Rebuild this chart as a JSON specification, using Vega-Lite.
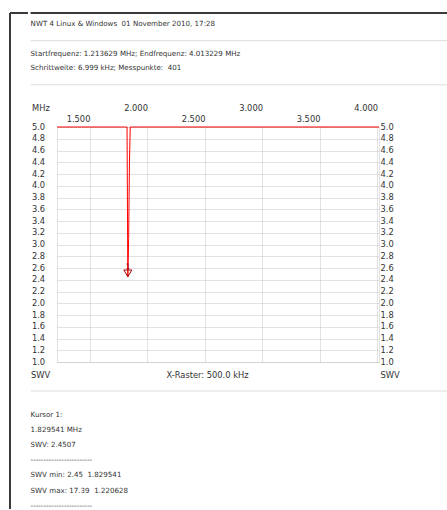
{
  "$schema": "https://vega.github.io/schema/vega-lite/v6.json",
  "padding": {"left": 9, "top": 12, "right": 0, "bottom": 0},
  "background": "white",
  "datasets": {
    "curve": [
      {"f": 1.213629, "swv": 17.2},
      {"f": 1.220628, "swv": 17.39},
      {"f": 1.283619, "swv": 16.5},
      {"f": 1.353609, "swv": 15.3},
      {"f": 1.423599, "swv": 14.0},
      {"f": 1.493589, "swv": 12.6},
      {"f": 1.563579, "swv": 11.0},
      {"f": 1.633569, "swv": 9.4},
      {"f": 1.703559, "swv": 7.8},
      {"f": 1.773549, "swv": 6.3},
      {"f": 1.801545, "swv": 5.8},
      {"f": 1.815543, "swv": 5.5},
      {"f": 1.822542, "swv": 5.2},
      {"f": 1.829541, "swv": 2.4507},
      {"f": 1.83654, "swv": 3.1},
      {"f": 1.843539, "swv": 4.4},
      {"f": 1.850538, "swv": 5.4},
      {"f": 1.857537, "swv": 5.9},
      {"f": 1.913529, "swv": 6.9},
      {"f": 2.123499, "swv": 9.5},
      {"f": 2.333469, "swv": 11.5},
      {"f": 2.613429, "swv": 13.0},
      {"f": 2.963379, "swv": 14.2},
      {"f": 3.313329, "swv": 15.0},
      {"f": 3.663279, "swv": 15.6},
      {"f": 4.013229, "swv": 16.0}
    ],
    "cursor": [{"f": 1.829541, "swv": 2.4507, "label": "1"}],
    "head1": [{"line": "t1", "text": "NWT 4 Linux & Windows\u00a0 01 November 2010, 17:28"}],
    "head2": [
      {"line": "l1", "text": "Startfrequenz: 1.213629 MHz; Endfrequenz: 4.013229 MHz"},
      {"line": "l2", "text": "Schrittweite: 6.999 kHz; Messpunkte:\u00a0 401"}
    ],
    "foot": [
      {"line": "k1", "text": "Kursor 1:"},
      {"line": "k2", "text": "1.829541 MHz"},
      {"line": "k3", "text": "SWV: 2.4507"},
      {"line": "d1", "text": "------------------------"},
      {"line": "m1", "text": "SWV min: 2.45\u00a0 1.829541"},
      {"line": "m2", "text": "SWV max: 17.39\u00a0 1.220628"},
      {"line": "d2", "text": "------------------------"}
    ],
    "blank": [{}]
  },
  "concat": [
    {
      "width": 18,
      "height": 496,
      "data": {"name": "blank"},
      "layer": [
        {
          "mark": {"type": "rule", "color": "#3a3a3a", "strokeWidth": 2},
          "encoding": {"x": {"datum": 0, "type": "quantitative", "scale": {"domain": [0, 1]}, "axis": null}}
        },
        {
          "mark": {"type": "rule", "color": "#3a3a3a", "strokeWidth": 2},
          "encoding": {"y": {"datum": 1, "type": "quantitative", "scale": {"domain": [0, 1]}, "axis": null}}
        }
      ]
    },
    {
      "concat": [
        {
          "width": 392.6,
          "height": 27.7,
          "layer": [
            {
              "data": {"name": "head1"},
              "mark": {"type": "text", "align": "left", "baseline": "bottom", "fontSize": 7.1, "color": "#333333", "dx": -26.4},
              "encoding": {
                "x": {"datum": 0, "type": "quantitative", "scale": {"domain": [0, 1]}, "axis": null},
                "y": {"field": "line", "type": "nominal", "scale": {"type": "point", "domain": ["frame", "t1", "sep1"], "padding": 0}, "axis": null},
                "text": {"field": "text"}
              }
            },
            {
              "data": {"name": "blank"},
              "mark": {"type": "rule", "color": "#3a3a3a", "strokeWidth": 2, "xOffset": -26.4},
              "encoding": {
                "x": {"datum": 0, "type": "quantitative"},
                "x2": {"datum": 1},
                "y": {"datum": "frame", "type": "nominal", "axis": null}
              }
            },
            {
              "data": {"name": "blank"},
              "mark": {"type": "rule", "color": "#dcdcdc", "strokeWidth": 1, "xOffset": -26.4},
              "encoding": {
                "x": {"datum": 0, "type": "quantitative"},
                "x2": {"datum": 1},
                "y": {"datum": "sep1", "type": "nominal", "axis": null}
              }
            }
          ]
        },
        {
          "width": 392.6,
          "height": 42.8,
          "layer": [
            {
              "data": {"name": "head2"},
              "mark": {"type": "text", "align": "left", "baseline": "middle", "fontSize": 7.1, "color": "#333333", "dx": -26.4},
              "encoding": {
                "x": {"datum": 0, "type": "quantitative", "scale": {"domain": [0, 1]}, "axis": null},
                "y": {"field": "line", "type": "nominal", "scale": {"type": "point", "domain": ["l1", "l2"], "padding": 1.029, "align": 0.427}, "axis": null},
                "text": {"field": "text"}
              }
            },
            {
              "data": {"name": "blank"},
              "mark": {"type": "rule", "color": "#dcdcdc", "strokeWidth": 1, "xOffset": -26.4},
              "encoding": {
                "x": {"datum": 0, "type": "quantitative"},
                "x2": {"datum": 1},
                "y": {"datum": 0, "type": "quantitative", "scale": {"domain": [0, 1]}, "axis": null}
              }
            }
          ],
          "resolve": {"scale": {"y": "independent"}}
        },
        {
          "width": 322,
          "height": 235,
          "view": {"stroke": "#c4c4c4", "strokeDash": [1, 1]},
          "layer": [
            {
              "data": {"name": "curve"},
              "mark": {"type": "line", "color": "#ff0000", "strokeWidth": 1},
              "encoding": {
                "x": {
                  "field": "f", "type": "quantitative",
                  "scale": {"domain": [1.213629, 4.013229], "nice": false, "zero": false},
                  "axis": {
                    "orient": "top",
                    "values": [1.5, 2, 2.5, 3, 3.5, 4],
                    "format": ".3f",
                    "labelExpr": "datum.value % 1 == 0 ? datum.label : ['', datum.label]",
                    "labelAlign": "right",
                    "labelBaseline": "bottom",
                    "labelLineHeight": 11,
                    "labelPadding": -25,
                    "labelFlush": false,
                    "labelOverlap": false,
                    "labelBound": false,
                    "domain": false,
                    "ticks": true,
                    "tickSize": 40,
                    "tickOpacity": 0,
                    "grid": true,
                    "gridColor": "#c4c4c4",
                    "gridDash": [1, 1],
                    "title": "MHz",
                    "titleX": -25.4,
                    "titleY": -16.7,
                    "titleAlign": "left",
                    "titleBaseline": "alphabetic",
                    "titleAngle": 0
                  }
                },
                "y": {
                  "field": "swv", "type": "quantitative",
                  "scale": {"domain": [1, 5], "nice": false, "zero": false, "clamp": true},
                  "axis": {
                    "orient": "left",
                    "values": [1, 1.2, 1.4, 1.6, 1.8, 2, 2.2, 2.4, 2.6, 2.8, 3, 3.2, 3.4, 3.6, 3.8, 4, 4.2, 4.4, 4.6, 4.8, 5],
                    "format": ".1f",
                    "labelAlign": "right",
                    "labelBaseline": "middle",
                    "labelPadding": 12.4,
                    "labelFlush": false,
                    "labelOverlap": false,
                    "labelBound": false,
                    "domain": false,
                    "ticks": false,
                    "grid": true,
                    "gridColor": "#c4c4c4",
                    "gridDash": [1, 1],
                    "title": "SWV",
                    "titleAngle": 0,
                    "titleX": -26.4,
                    "titleY": 248.3,
                    "titleAlign": "left",
                    "titleBaseline": "middle"
                  }
                }
              }
            },
            {
              "data": {"name": "cursor"},
              "mark": {"type": "point", "shape": "M-1,-1.7L1,-1.7L0,0Z", "size": 64, "filled": false, "color": "#a00000", "strokeWidth": 1, "opacity": 1},
              "encoding": {
                "x": {
                  "field": "f", "type": "quantitative",
                  "axis": {
                    "orient": "bottom",
                    "labels": false,
                    "domain": false,
                    "ticks": true,
                    "tickSize": 27,
                    "tickOpacity": 0,
                    "grid": false,
                    "title": "X-Raster: 500.0 kHz",
                    "titleX": 150,
                    "titleY": 13.3,
                    "titleAlign": "center",
                    "titleBaseline": "middle",
                    "titleAngle": 0
                  }
                },
                "y": {
                  "field": "swv", "type": "quantitative",
                  "axis": {
                    "orient": "right",
                    "values": [1, 1.2, 1.4, 1.6, 1.8, 2, 2.2, 2.4, 2.6, 2.8, 3, 3.2, 3.4, 3.6, 3.8, 4, 4.2, 4.4, 4.6, 4.8, 5],
                    "format": ".1f",
                    "labelAlign": "left",
                    "labelBaseline": "middle",
                    "labelPadding": 1,
                    "labelFlush": false,
                    "labelOverlap": false,
                    "labelBound": false,
                    "domain": false,
                    "ticks": false,
                    "grid": false,
                    "title": "SWV",
                    "titleAngle": 0,
                    "titleX": 1,
                    "titleY": 248.3,
                    "titleAlign": "left",
                    "titleBaseline": "middle"
                  }
                }
              }
            },
            {
              "data": {"name": "cursor"},
              "mark": {"type": "text", "dy": -10, "fontSize": 7.5, "color": "#a00000", "align": "center", "baseline": "middle"},
              "encoding": {
                "x": {"field": "f", "type": "quantitative", "axis": null},
                "y": {"field": "swv", "type": "quantitative", "axis": null},
                "text": {"field": "label"}
              }
            }
          ],
          "resolve": {"axis": {"x": "independent", "y": "independent"}}
        },
        {
          "width": 392.6,
          "height": 121.5,
          "layer": [
            {
              "data": {"name": "foot"},
              "mark": {"type": "text", "align": "left", "baseline": "middle", "fontSize": 7.1, "color": "#333333", "dx": -26.4},
              "encoding": {
                "x": {"datum": 0, "type": "quantitative", "scale": {"domain": [0, 1]}, "axis": null},
                "y": {"field": "line", "type": "nominal", "scale": {"type": "point", "domain": ["k1", "k2", "k3", "d1", "m1", "m2", "d2"], "padding": 1.637, "align": 0.781}, "axis": null},
                "text": {"field": "text"}
              }
            },
            {
              "data": {"name": "blank"},
              "mark": {"type": "rule", "color": "#dcdcdc", "strokeWidth": 1, "xOffset": -26.4},
              "encoding": {
                "x": {"datum": 0, "type": "quantitative"},
                "x2": {"datum": 1},
                "y": {"datum": 1, "type": "quantitative", "scale": {"domain": [0, 1]}, "axis": null}
              }
            }
          ],
          "resolve": {"scale": {"y": "independent"}}
        }
      ],
      "columns": 1,
      "spacing": 0,
      "align": "none"
    }
  ],
  "columns": 2,
  "spacing": 0,
  "align": "none",
  "config": {
    "view": {"stroke": null},
    "font": "DejaVu Sans",
    "text": {"font": "DejaVu Sans"},
    "axis": {
      "labelFont": "DejaVu Sans",
      "labelFontSize": 8.3,
      "labelColor": "#333333",
      "titleFont": "DejaVu Sans",
      "titleFontSize": 8.3,
      "titleFontWeight": "normal",
      "titleColor": "#333333"
    }
  }
}
